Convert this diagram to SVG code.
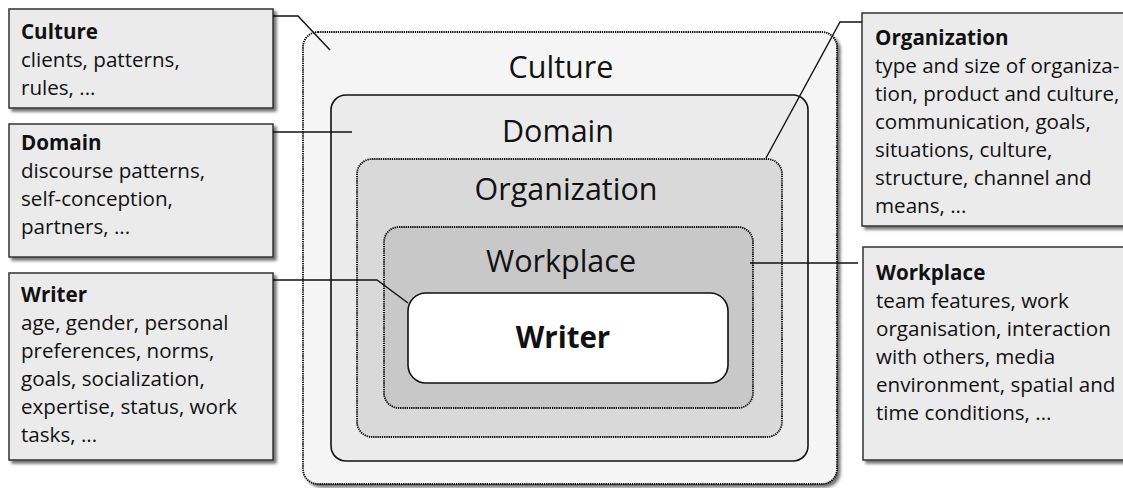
<svg xmlns="http://www.w3.org/2000/svg" width="1123" height="488" viewBox="0 0 1123 488">
  <defs>
    <filter id="shadow" x="-5%" y="-5%" width="115%" height="120%">
      <feGaussianBlur in="SourceAlpha" stdDeviation="1.5"/>
      <feOffset dx="3" dy="3" result="off"/>
      <feComponentTransfer><feFuncA type="linear" slope="0.55"/></feComponentTransfer>
      <feMerge><feMergeNode/><feMergeNode in="SourceGraphic"/></feMerge>
    </filter>
  </defs>
  <style>
    .note { fill: #ebebeb; stroke: #333; stroke-width: 1.5; }
    .dotted { stroke: #000; stroke-width: 1.8; stroke-dasharray: 1.3 0.9; }
    .solid { stroke: #111; stroke-width: 1.6; }
    .layer { font-family: "Open Sans", "Noto Sans", "DejaVu Sans", sans-serif; font-size: 30.5px; fill: #111; text-anchor: middle; }
    .t { font-family: "Open Sans", "Noto Sans", "DejaVu Sans", sans-serif; font-size: 20.6px; fill: #111; }
    .b { font-weight: bold; }
    .conn { fill: none; stroke: #111; stroke-width: 1.4; }
  </style>
  <rect width="1123" height="488" fill="#fff"/>

  <!-- nested layers -->
  <g id="layer-culture">
    <rect x="303" y="32" width="534" height="452" rx="15" fill="#f5f5f5" class="dotted" filter="url(#shadow)"/>
    <text class="layer" x="561" y="78">Culture</text>
  </g>
  <g id="layer-domain">
    <rect x="331" y="95" width="477" height="366" rx="15" fill="#ebebeb" class="solid"/>
    <text class="layer" x="558" y="142">Domain</text>
  </g>
  <g id="layer-organization">
    <rect x="357" y="159" width="425" height="278" rx="15" fill="#d9d9d9" class="dotted"/>
    <text class="layer" x="566" y="200">Organization</text>
  </g>
  <g id="layer-workplace">
    <rect x="384" y="227" width="369" height="181" rx="15" fill="#c8c8c8" class="dotted"/>
    <text class="layer" x="561" y="272">Workplace</text>
  </g>
  <g id="layer-writer">
    <rect x="408" y="293" width="320" height="90" rx="18" fill="#fff" class="solid"/>
    <text class="layer b" x="563" y="348" style="font-size:29.5px">Writer</text>
  </g>

  <!-- description notes -->
  <g id="note-culture">
    <rect x="9" y="9" width="264" height="99" class="note" filter="url(#shadow)"/>
    <text class="t"><tspan class="b" x="21" y="39">Culture</tspan><tspan x="21" y="67">clients, patterns,</tspan><tspan x="21" y="95">rules, ...</tspan></text>
  </g>
  <g id="note-domain">
    <rect x="9" y="124" width="264" height="133" class="note" filter="url(#shadow)"/>
    <text class="t"><tspan class="b" x="21" y="150">Domain</tspan><tspan x="21" y="178">discourse patterns,</tspan><tspan x="21" y="206">self-conception,</tspan><tspan x="21" y="234">partners, ...</tspan></text>
  </g>
  <g id="note-writer">
    <rect x="9" y="273" width="264" height="187" class="note" filter="url(#shadow)"/>
    <text class="t"><tspan class="b" x="21" y="302">Writer</tspan><tspan x="21" y="330">age, gender, personal</tspan><tspan x="21" y="358">preferences, norms,</tspan><tspan x="21" y="386">goals, socialization,</tspan><tspan x="21" y="414">expertise, status, work</tspan><tspan x="21" y="442">tasks, ...</tspan></text>
  </g>
  <g id="note-organization">
    <rect x="862" y="13" width="270" height="213" class="note" filter="url(#shadow)"/>
    <text class="t"><tspan class="b" x="875" y="45">Organization</tspan><tspan x="875" y="73">type and size of organiza-</tspan><tspan x="875" y="101">tion, product and culture,</tspan><tspan x="875" y="129">communication, goals,</tspan><tspan x="875" y="157">situations, culture,</tspan><tspan x="875" y="185">structure, channel and</tspan><tspan x="875" y="213">means, ...</tspan></text>
  </g>
  <g id="note-workplace">
    <rect x="863" y="247" width="270" height="213" class="note" filter="url(#shadow)"/>
    <text class="t"><tspan class="b" x="876" y="280">Workplace</tspan><tspan x="876" y="308">team features, work</tspan><tspan x="876" y="336">organisation, interaction</tspan><tspan x="876" y="364">with others, media</tspan><tspan x="876" y="392">environment, spatial and</tspan><tspan x="876" y="420">time conditions, ...</tspan></text>
  </g>

  <!-- leader lines -->
  <g id="connectors">
    <path class="conn" d="M273,16 H298 L330,50"/>
    <path class="conn" d="M273,132 H352"/>
    <path class="conn" d="M273,280 H377 L408,303"/>
    <path class="conn" d="M862,22 H840 L766,158"/>
    <path class="conn" d="M750,263 H858"/>
  </g>
</svg>
